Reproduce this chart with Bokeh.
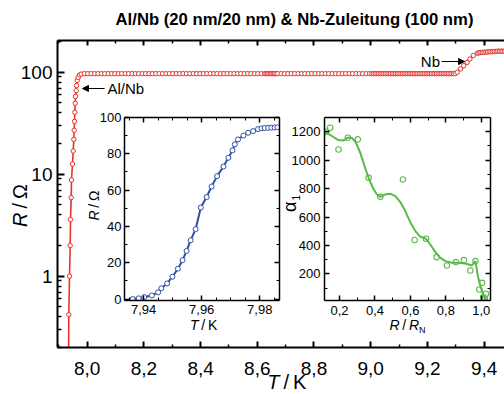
import math
from bokeh.plotting import figure
from bokeh.models import (FixedTicker, LinearAxis, Range1d, Label, Arrow, NormalHead,
                          CustomJSTickFormatter, Column)
from bokeh.embed import file_html
from bokeh.resources import INLINE

FONT = "Liberation Sans"
RED = "#e8322b"
BLUE = "#2f4fa6"
GREEN = "#5cb849"
SP = "\u2009"

TITLE = "Al/Nb (20 nm/20 nm) & Nb-Zuleitung (100 nm)"

# ---------------- main curve: R(T) ----------------
T_TRANS = [7.9340, 7.9351, 7.9376, 7.9400, 7.9411, 7.9436, 7.9446, 7.9481, 7.9506, 7.9527,
           7.9541, 7.9552, 7.9563, 7.9577, 7.9587, 7.9612, 7.9623, 7.9647, 7.9682, 7.9728, 7.9788]
R_TRANS = [0.12, 0.42, 1.0, 2.0, 3.6, 5.9, 8.8, 12.6, 16.9, 22.0,
           27.0, 33.0, 40.5, 49.7, 58.0, 66.0, 74.0, 83.0, 89.0, 94.0, 96.0]

T_FLAT = [7.990, 8.002, 8.014, 8.026, 8.038, 8.050, 8.062, 8.074, 8.086, 8.098,
          8.110, 8.122, 8.134, 8.146, 8.158, 8.170, 8.182, 8.194, 8.206, 8.218,
          8.230, 8.242, 8.254, 8.266, 8.278, 8.290, 8.302, 8.314, 8.326, 8.338,
          8.350, 8.362, 8.374, 8.386, 8.398, 8.410, 8.422, 8.434, 8.446, 8.458,
          8.470, 8.482, 8.494, 8.506, 8.518, 8.530, 8.542, 8.554, 8.566, 8.578,
          8.590, 8.602, 8.614, 8.626, 8.631, 8.636, 8.641, 8.646, 8.651, 8.656,
          8.661, 8.666, 8.672, 8.684, 8.696, 8.708, 8.720, 8.732, 8.744, 8.756,
          8.768, 8.780, 8.792, 8.804, 8.816, 8.828, 8.840, 8.852, 8.864, 8.876,
          8.888, 8.900, 8.912, 8.924, 8.936, 8.948, 8.960, 8.972, 8.984, 8.996,
          9.004, 9.010, 9.016, 9.022, 9.028, 9.034, 9.040, 9.046, 9.052, 9.058,
          9.064, 9.070, 9.076, 9.082, 9.088, 9.094, 9.100, 9.106, 9.112, 9.118,
          9.124, 9.130, 9.136, 9.142, 9.148, 9.154, 9.160, 9.166, 9.172, 9.178,
          9.184, 9.190, 9.196, 9.202, 9.208, 9.214, 9.220, 9.226, 9.232, 9.238,
          9.244, 9.250, 9.256, 9.262, 9.268, 9.274, 9.280, 9.286, 9.292, 9.298]
R_FLAT = [97, 97, 97, 97, 97, 97, 97, 97, 97, 97,
          97, 97, 97, 97, 97, 97, 97, 97, 97, 97,
          97, 97, 97, 97, 97, 97, 97, 97, 97, 97,
          97, 97, 97, 97, 97, 97, 97, 97, 97, 97,
          97, 97, 97, 97, 97, 97, 97, 97, 97, 97,
          97, 97, 97, 97, 97, 97, 97, 97, 97, 97,
          97, 97, 97, 97, 97, 97, 97, 97, 97, 97,
          97, 97, 97, 97, 97, 97, 97, 97, 97, 97,
          97, 97, 97, 97, 97, 97, 97, 97, 97, 97,
          97, 97, 97, 97, 97, 97, 97, 97, 97, 97,
          97, 97, 97, 97, 97, 97, 97, 97, 97, 97,
          97, 97, 97, 97, 97, 97, 97, 97, 97, 97,
          97, 97, 97, 97, 97, 97, 97, 97, 97, 97,
          97, 97, 97, 97, 97, 97, 97, 97, 97, 97]

T_NB = [9.305, 9.317, 9.328, 9.340, 9.350, 9.362, 9.376, 9.382, 9.388, 9.394, 9.400, 9.406,
        9.412, 9.418, 9.424, 9.430, 9.436, 9.442, 9.448, 9.454, 9.460, 9.466, 9.472, 9.478]
R_NB = [100, 108, 116, 125, 135, 146, 154, 155, 156, 157, 157, 158,
        158, 159, 159, 160, 160, 160, 161, 161, 161, 161, 161, 162]

X_TICKS = [8.0, 8.2, 8.4, 8.6, 8.8, 9.0, 9.2, 9.4]
X_MINOR = [7.9, 8.1, 8.3, 8.5, 8.7, 8.9, 9.1, 9.3, 9.5]
Y_TICKS = [1, 10, 100]
Y_MINOR = [0.2, 0.3, 0.4, 0.5, 0.6, 0.7, 0.8, 0.9, 2, 3, 4, 5, 6, 7, 8, 9,
           20, 30, 40, 50, 60, 70, 80, 90, 200]

# ---------------- inset 1: transition detail ----------------
T_IN = [7.9362, 7.9383, 7.9402, 7.9428, 7.9450, 7.9461, 7.9481, 7.9499, 7.9518, 7.9534,
        7.9548, 7.9562, 7.9579, 7.9597, 7.9617, 7.9634, 7.9653, 7.9675, 7.9692, 7.9706,
        7.9714, 7.9725, 7.9744, 7.9760, 7.9777, 7.9794, 7.9806, 7.9817, 7.9829, 7.9840,
        7.9851, 7.9861]
R_IN = [0.0, 0.4, 1.1, 2.0, 3.7, 5.9, 8.6, 12.3, 16.7, 21.4,
        26.5, 32.4, 38.5, 50.4, 56.2, 62.0, 67.7, 73.0, 77.8, 81.9,
        85.2, 87.9, 90.1, 91.6, 92.5, 93.6, 94.0, 94.2, 94.3, 94.4,
        94.5, 94.6]
IN1_X_TICKS = [7.94, 7.96, 7.98]
IN1_X_MINOR = [7.935, 7.945, 7.95, 7.955, 7.965, 7.97, 7.975, 7.985]
IN1_Y_TICKS = [0, 20, 40, 60, 80, 100]
IN1_Y_MINOR = [10, 30, 50, 70, 90]

# ---------------- inset 2: alpha vs R/RN ----------------
X_AL = [0.123, 0.147, 0.194, 0.247, 0.303, 0.364, 0.430, 0.558, 0.624, 0.688,
        0.748, 0.806, 0.857, 0.902, 0.938, 0.967, 0.989, 1.004, 1.012, 1.020, 1.027]
A_AL = [1200, 1228, 1075, 1158, 1146, 876, 742, 864, 438, 447,
        318, 259, 283, 297, 224, 290, 90, 137, 36, 25, 60]
X_FIT = [0.115, 0.156, 0.194, 0.223, 0.247, 0.269, 0.292, 0.317, 0.341, 0.364,
         0.388, 0.411, 0.430, 0.458, 0.486, 0.515, 0.543, 0.571, 0.599, 0.628,
         0.656, 0.688, 0.712, 0.741, 0.769, 0.797, 0.834, 0.872, 0.910, 0.947,
         0.967, 0.981, 0.998, 1.018, 1.032]
A_FIT = [1200, 1170, 1141, 1139, 1158, 1158, 1123, 1052, 958, 876,
         806, 759, 742, 759, 764, 747, 705, 642, 564, 501,
         461, 447, 407, 353, 313, 290, 278, 278, 273, 259,
         290, 184, 101, 31, 10]
IN2_X_TICKS = [0.2, 0.4, 0.6, 0.8, 1.0]
IN2_X_MINOR = [0.3, 0.5, 0.7, 0.9]
IN2_Y_TICKS = [200, 400, 600, 800, 1000, 1200]
IN2_Y_MINOR = [100, 300, 500, 700, 900, 1100]

# ---------------- geometry ----------------
W, H = 504, 394


def style_axis(ax, major_in, minor_in, lw, font_px, standoff, labels=True):
    ax.axis_line_width = lw
    ax.axis_line_color = "black"
    ax.major_tick_in = major_in
    ax.major_tick_out = 0
    ax.minor_tick_in = minor_in
    ax.minor_tick_out = 0
    ax.major_tick_line_width = lw
    ax.minor_tick_line_width = max(1, lw - 0.5)
    ax.major_tick_line_color = "black"
    ax.minor_tick_line_color = "black"
    ax.major_label_text_font = FONT
    ax.major_label_text_color = "black"
    ax.major_label_standoff = standoff
    if labels:
        ax.major_label_text_font_size = f"{font_px}px"
    else:
        ax.major_label_text_font_size = "0px"
        ax.major_label_standoff = 0
        ax.formatter = CustomJSTickFormatter(code="return '';")


def comma_fmt(nd):
    return CustomJSTickFormatter(code=f"return tick.toFixed({nd}).replace('.', ',');")


def layer(xr, yr, frame, **kw):
    """A full-window transparent figure whose frame sits at the given box."""
    left, top, right, bottom = frame
    f = figure(width=W, height=H, x_range=Range1d(*xr), y_range=Range1d(*yr),
               output_backend="svg", toolbar_location=None,
               min_border_left=left, min_border_right=W - right, min_border_top=top,
               min_border_bottom=H - bottom, **kw)
    f.background_fill_color = None
    f.border_fill_color = None
    f.outline_line_color = None
    f.grid.visible = False
    return f


# ---------------- main figure ----------------
main = layer((7.8952, 9.4720), (0.2, 205.0), (57, 40, 504, 347), y_axis_type="log")
main.background_fill_color = "white"
main.border_fill_color = "white"

xa = main.xaxis[0]
xa.ticker = FixedTicker(ticks=X_TICKS, minor_ticks=X_MINOR)
xa.formatter = comma_fmt(1)
style_axis(xa, 6, 3, 2, 19, 14)

ya = main.yaxis[0]
ya.ticker = FixedTicker(ticks=Y_TICKS, minor_ticks=Y_MINOR)
ya.formatter = CustomJSTickFormatter(code="return String(tick);")
style_axis(ya, 7, 4, 2, 19, 5)

top = LinearAxis(ticker=FixedTicker(ticks=X_TICKS, minor_ticks=X_MINOR))
style_axis(top, 5, 3, 2, 19, 0, labels=False)
main.add_layout(top, "above")

T_ALL = T_TRANS + T_FLAT + T_NB
R_ALL = R_TRANS + R_FLAT + R_NB
main.line(T_ALL, R_ALL, line_color=RED, line_width=1.6)
main.scatter(T_ALL, R_ALL, marker="circle", size=4.4, line_color=RED,
             fill_color="white", line_width=1)


# ---------------- insets ----------------
def inset_axes(f, xt, xm, yt, ym, xfmt, yfmt, xs, ys):
    ax = f.xaxis[0]
    ax.ticker = FixedTicker(ticks=xt, minor_ticks=xm)
    ax.formatter = xfmt
    style_axis(ax, 5, 3, 1.5, 13, xs)
    ax = f.yaxis[0]
    ax.ticker = FixedTicker(ticks=yt, minor_ticks=ym)
    ax.formatter = yfmt
    style_axis(ax, 5, 3, 1.5, 13, ys)
    a_top = LinearAxis(ticker=FixedTicker(ticks=xt, minor_ticks=xm))
    style_axis(a_top, 5, 3, 1.5, 13, 0, labels=False)
    f.add_layout(a_top, "above")
    a_r = LinearAxis(ticker=FixedTicker(ticks=yt, minor_ticks=ym))
    style_axis(a_r, 5, 3, 1.5, 13, 0, labels=False)
    f.add_layout(a_r, "right")


int_fmt = CustomJSTickFormatter(code="return tick.toFixed(0);")

in1 = layer((7.9334, 7.9868), (-0.8, 100), (124, 117, 279, 300))
inset_axes(in1, IN1_X_TICKS, IN1_X_MINOR, IN1_Y_TICKS, IN1_Y_MINOR, comma_fmt(2), int_fmt, 4, 3)
in1.line(T_IN, R_IN, line_color=BLUE, line_width=2)
in1.scatter(T_IN, R_IN, marker="circle", size=5, line_color=BLUE, fill_color="white",
            line_width=1)

in2 = layer((0.115, 1.052), (13, 1300), (324, 117, 490, 300))
inset_axes(in2, IN2_X_TICKS, IN2_X_MINOR, IN2_Y_TICKS, IN2_Y_MINOR, comma_fmt(1), int_fmt, 5, 4)
in2.line(X_FIT, A_FIT, line_color=GREEN, line_width=2)
in2.scatter(X_AL, A_AL, marker="circle", size=5.5, line_color=GREEN, fill_color=None,
            line_width=1.1)

# ---------------- text layer (pixel coordinates of the window) ----------------
txt = layer((0, W), (H, 0), (0, 0, W, H), x_axis_location=None, y_axis_location=None)


def lab(x, y, text, size, align="left", italic=False, bold=False, angle=0.0):
    style = "bold" if bold else ("italic" if italic else "normal")
    txt.add_layout(Label(x=x, y=y, text=text, text_align=align, text_baseline="middle",
                         text_font=FONT, text_font_size=f"{size}px", text_font_style=style,
                         text_color="black", angle=angle, angle_units="rad"))


def arrow(x0, y0, x1, y1):
    txt.add_layout(Arrow(end=NormalHead(size=6, fill_color="black", line_color="black",
                                        line_width=1),
                         x_start=x0, y_start=y0, x_end=x1, y_end=y1,
                         line_width=1.2, line_color="black"))


lab(294, 18.5, TITLE, 16.7, align="center", bold=True)

arrow(104, 88, 82, 88)
lab(107, 88, "Al/Nb", 15)
arrow(441, 61, 464, 61)
lab(439.5, 61, "Nb", 15, align="right")

# main axis labels
lab(279, 381, "T", 20, align="right", italic=True)
lab(279, 381, SP + "/" + SP + "K", 20, align="left")
lab(19, 212, "R", 20, align="right", italic=True, angle=math.pi / 2)
lab(19, 212, SP + "/" + SP + "\u03a9", 20, align="left", angle=math.pi / 2)

# inset 1 axis labels
lab(198, 324, "T", 14, align="right", italic=True)
lab(198, 324, SP + "/" + SP + "K", 14, align="left")
lab(93, 210, "R", 14, align="right", italic=True, angle=math.pi / 2)
lab(93, 210, SP + "/" + SP + "\u03a9", 14, align="left", angle=math.pi / 2)

# inset 2 axis labels
lab(389, 324, "R", 14, align="left", italic=True)
lab(399, 324, SP + "/" + SP, 14, align="left")
lab(408.5, 324, "R", 14, align="left", italic=True)
lab(418.5, 329.5, "N", 9, align="left")
lab(289, 201, "\u03b1", 18, align="right", angle=math.pi / 2)
lab(295.5, 200, "1", 10, align="left", angle=math.pi / 2)

layout = Column(children=[
    Column(children=[main]),
    Column(children=[in1], margin=(-H, 0, 0, 0)),
    Column(children=[in2], margin=(-H, 0, 0, 0)),
    Column(children=[txt], margin=(-H, 0, 0, 0)),
])

with open("out.html", "w") as fh:
    fh.write(file_html(layout, INLINE))
